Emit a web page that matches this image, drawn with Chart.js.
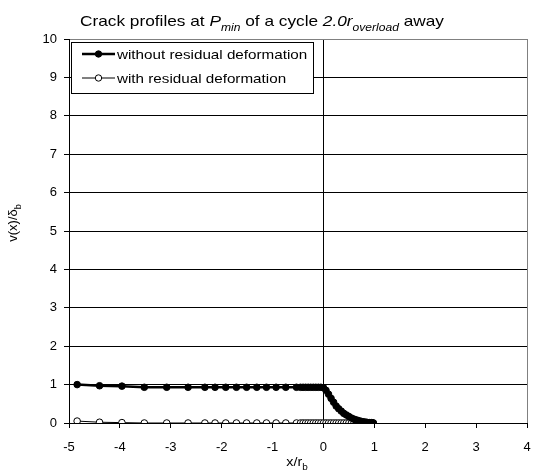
<!DOCTYPE html>
<html>
<head>
<meta charset="utf-8">
<script src="https://cdn.jsdelivr.net/npm/chart.js@4"></script>
<style>
  html, body { margin: 0; padding: 0; background: #fff; }
</style>
</head>
<body>
<canvas id="myChart" width="539" height="472"></canvas>
<script>
// posiciones x/r_b (iguales para las dos series)
const xPositions = [
  -4.84, -4.40, -3.96, -3.52, -3.08, -2.66, -2.33, -2.13, -1.92, -1.71,
  -1.51, -1.31, -1.12, -0.93, -0.74, -0.53, -0.45, -0.40, -0.35, -0.30,
  -0.25, -0.20, -0.15, -0.10, -0.05, 0.00, 0.05, 0.10, 0.15, 0.20,
  0.25, 0.30, 0.35, 0.40, 0.45, 0.50, 0.55, 0.60, 0.65, 0.70,
  0.75, 0.80, 0.85, 0.90, 0.95, 0.98
];

const withoutResidual = [
  1.00, 0.97, 0.96, 0.93, 0.93, 0.93, 0.93, 0.93, 0.93, 0.93,
  0.93, 0.93, 0.93, 0.93, 0.93, 0.93, 0.93, 0.93, 0.93, 0.93,
  0.93, 0.93, 0.93, 0.93, 0.93, 0.92, 0.85, 0.75, 0.64, 0.54,
  0.44, 0.37, 0.31, 0.25, 0.21, 0.17, 0.13, 0.10, 0.08, 0.06,
  0.04, 0.03, 0.02, 0.01, 0.01, 0.00
];

const withResidual = [
  0.05, 0.02, 0.01, 0.00, 0.00, 0.00, 0.00, 0.00, 0.00, 0.00,
  0.00, 0.00, 0.00, 0.00, 0.00, 0.00, 0.00, 0.00, 0.00, 0.00,
  0.00, 0.00, 0.00, 0.00, 0.00, 0.00, 0.00, 0.00, 0.00, 0.00,
  0.00, 0.00, 0.00, 0.00, 0.00, 0.00, 0.00, 0.00, 0.00, 0.00,
  0.00, 0.00, 0.00, 0.00, 0.00, 0.00
];

const xTickMin = -5, xTickMax = 4;
const yTickMin = 0, yTickMax = 10;

const seriesNames = ["without residual deformation", "with residual deformation"];
const titleParts = [
  ["Crack profiles at ", "n"], ["P", "i"], ["min", "is"], [" of a cycle ", "n"],
  ["2.0r", "i"], ["overload", "is"], [" away", "n"]
];

const FONT = "'Liberation Sans', Arial, sans-serif";

// texto con estiramiento horizontal (la imagen original está algo ensanchada)
function drawParts(ctx, parts, x, y, size, stretch, align) {
  const widths = parts.map(([t, s]) => {
    const sz = s.includes("s") ? size * 0.7 : size;
    ctx.font = (s.includes("i") ? "italic " : "") + sz + "px " + FONT;
    return ctx.measureText(t).width;
  });
  const total = widths.reduce((a, b) => a + b, 0);
  ctx.save();
  ctx.translate(x, y);
  ctx.scale(stretch, 1);
  let cx = align === "center" ? -total / 2 : 0;
  ctx.fillStyle = "#000";
  ctx.textBaseline = "alphabetic";
  ctx.textAlign = "left";
  parts.forEach(([t, s], i) => {
    const sub = s.includes("s");
    const sz = sub ? size * 0.7 : size;
    ctx.font = (s.includes("i") ? "italic " : "") + sz + "px " + FONT;
    ctx.fillText(t, cx, sub ? size * 0.3 : 0);
    cx += widths[i];
  });
  ctx.restore();
}

const extrasPlugin = {
  id: "extras",
  afterDraw(chart) {
    const ctx = chart.ctx;
    // titulo
    drawParts(ctx, titleParts, 262, 26, 15, 1.15, "center");
    // titulo eje x
    drawParts(ctx, [["x/r", "n"], ["b", "s"]], 297, 466, 13, 1.1, "center");
    // titulo eje y
    ctx.save();
    ctx.translate(17, 223);
    ctx.rotate(-Math.PI / 2);
    drawParts(ctx, [["v(x)/δ", "n"], ["b", "s"]], 0, 0, 13, 1.0, "center");
    ctx.restore();

    // leyenda
    ctx.save();
    ctx.fillStyle = "#fff";
    ctx.fillRect(71.5, 42.5, 242, 51);
    ctx.strokeStyle = "#000";
    ctx.lineWidth = 1;
    ctx.strokeRect(71.5, 42.5, 242, 51);
    const rows = [
      { y: 54, lw: 2.5, fill: "#000", name: seriesNames[0] },
      { y: 78, lw: 1, fill: "#fff", name: seriesNames[1] }
    ];
    rows.forEach((r) => {
      ctx.strokeStyle = "#000";
      ctx.lineWidth = r.lw;
      ctx.beginPath();
      ctx.moveTo(82, r.y);
      ctx.lineTo(115, r.y);
      ctx.stroke();
      ctx.beginPath();
      ctx.arc(98.5, r.y, 3.2, 0, Math.PI * 2);
      ctx.fillStyle = r.fill;
      ctx.fill();
      ctx.lineWidth = 1;
      ctx.stroke();
      drawParts(ctx, [[r.name, "n"]], 117, r.y + 4.5, 13, 1.17, "left");
    });
    ctx.restore();
  }
};

const ctx = document.getElementById("myChart").getContext("2d");

window.myChart = new Chart(ctx, {
  type: "line",
  data: {
    datasets: [
      {
        label: seriesNames[0],
        data: xPositions.map((x, i) => ({ x: x, y: withoutResidual[i] })),
        borderColor: "#000",
        backgroundColor: "#000",
        borderWidth: 2.5,
        pointRadius: 3.3,
        pointBorderWidth: 1,
        pointBackgroundColor: "#000",
        pointBorderColor: "#000",
        tension: 0,
      },
      {
        label: seriesNames[1],
        data: xPositions.map((x, i) => ({ x: x, y: withResidual[i] })),
        borderColor: "#000",
        backgroundColor: "#fff",
        borderWidth: 1,
        pointRadius: 3.3,
        pointBorderWidth: 1,
        pointBackgroundColor: "#fff",
        pointBorderColor: "#000",
        tension: 0,
      },
    ],
  },
  options: {
    responsive: false,
    animation: false,
    layout: { padding: { top: 39, right: 12, left: 0, bottom: 0 } },
    plugins: {
      legend: { display: false },
      title: { display: false },
      tooltip: { enabled: false },
    },
    scales: {
      x: {
        type: "linear",
        min: xTickMin,
        max: xTickMax,
        afterFit: (scale) => {
          scale.height = 49;
          scale.paddingLeft = 4;
          scale.paddingRight = 4;
        },
        ticks: {
          stepSize: 1,
          color: "#000",
          font: { family: FONT, size: 13 },
          padding: 12,
          maxRotation: 0,
        },
        grid: {
          color: (c) => c.tick && c.tick.value === 0 ? "#000" : (c.tick && c.tick.value === xTickMax ? "#808080" : "rgba(0,0,0,0)"),
          tickColor: "#000",
          tickLength: 5,
        },
        border: { color: "#000", width: 1 },
      },
      y: {
        min: yTickMin,
        max: yTickMax,
        afterFit: (scale) => { scale.width = 69; },
        ticks: {
          stepSize: 1,
          color: "#000",
          font: { family: FONT, size: 13 },
          padding: 7,
        },
        grid: {
          color: (c) => c.tick && c.tick.value === yTickMax ? "#808080" : "#000",
          tickColor: "#000",
          tickLength: 5,
        },
        border: { color: "#000", width: 1 },
      },
    },
  },
  plugins: [extrasPlugin],
});
</script>
</body>
</html>
